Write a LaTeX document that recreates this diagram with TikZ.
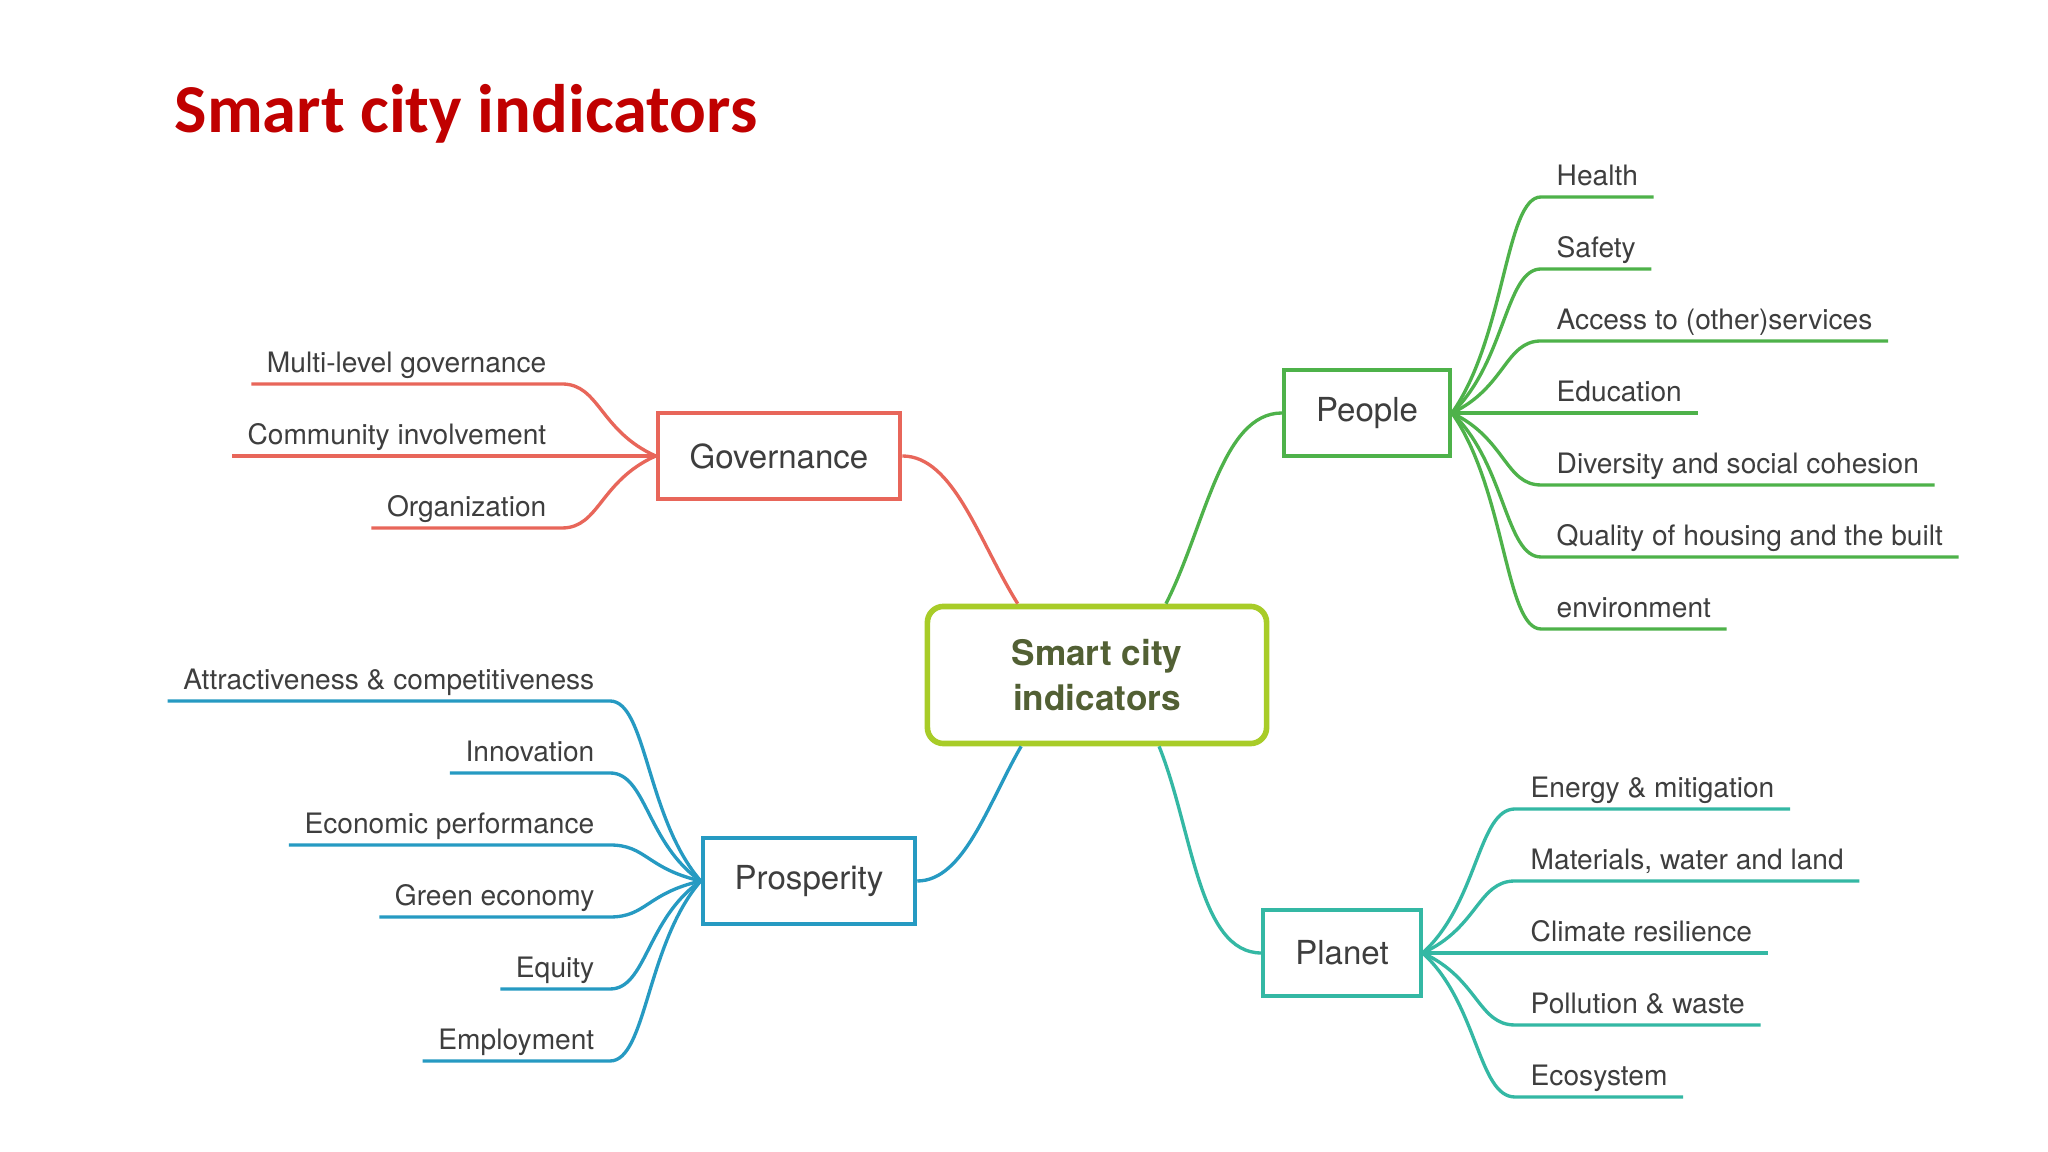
\documentclass[tikz,border=0pt]{standalone}
\usepackage{fontspec}
\setmainfont{TeX Gyre Heros}
\newfontfamily\titlefont{Carlito}
\usetikzlibrary{calc}
\definecolor{titlered}{RGB}{192,0,0}
\definecolor{textgrey}{RGB}{62,62,62}
\definecolor{hublime}{RGB}{168,204,40}
\definecolor{hubtext}{RGB}{82,96,52}
\definecolor{govred}{RGB}{232,102,90}
\definecolor{peoplegreen}{RGB}{78,178,74}
\definecolor{prosblue}{RGB}{38,154,194}
\definecolor{planetteal}{RGB}{52,184,164}

\begin{document}
\begin{tikzpicture}[x=0.01cm,y=0.01cm,
	topic/.style={draw,line width=1.1pt,fill=white,inner xsep=0.32cm,minimum height=0.86cm,font=\fontsize{9.4}{11}\selectfont,text=textgrey},
	leaf/.style={inner xsep=0.15cm,inner ysep=0pt,font=\fontsize{8}{10}\selectfont,text=textgrey},
	branch/.style={line width=0.95pt},
	twig/.style={line width=0.95pt,to path={let \p1=(\tikztostart),\p2=(\tikztotarget) in
		.. controls ({\x1+0.6*(\x2-\x1)},{\y1+0.35*(\y2-\y1)}) and ({\x1+0.6*(\x2-\x1)},\y2) .. (\tikztotarget)}}
]
	\path[fill=white,use as bounding box] (0,0) rectangle (2048,1152);

	\node[anchor=base west,inner sep=0,font=\titlefont\bfseries\fontsize{19.5}{23}\selectfont,text=titlered] (title) at (174,1019) {Smart city indicators};

	% centre and main topics
	\node[draw=hublime,line width=1.6pt,rounded corners=0.16cm,minimum width=3.39cm,minimum height=1.37cm,align=center,
		font=\bfseries\fontsize{10}{13}\selectfont,text=hubtext] (hub) at (1097,477) {Smart city\\indicators};
	\node[topic,draw=govred] (gov) at (779,696) {Governance};
	\node[topic,draw=peoplegreen] (peo) at (1367,739) {People};
	\node[topic,draw=prosblue] (pros) at (809,271) {Prosperity};
	\node[topic,draw=planetteal] (pla) at (1342,199) {Planet};

	\coordinate (hubgov) at ($(hub.north west)!0.27!(hub.north east)$);
	\coordinate (hubpeo) at ($(hub.north west)!0.70!(hub.north east)$);
	\coordinate (hubpros) at ($(hub.south west)!0.28!(hub.south east)$);
	\coordinate (hubpla) at ($(hub.south west)!0.68!(hub.south east)$);

	\draw[branch,govred] (gov.east) to[out=0,in=122,out looseness=0.7] (hubgov);
	\draw[branch,peoplegreen] (hubpeo) to[out=63,in=180,in looseness=0.7] (peo.west);
	\draw[branch,prosblue] (pros.east) to[out=0,in=-120,out looseness=0.7] (hubpros);
	\draw[branch,planetteal] (hubpla) to[out=-68,in=180,in looseness=0.7] (pla.west);

	% leaves
	\foreach \txt [count=\i] in {Multi-level governance,Community involvement,Organization} {
		\coordinate (gc\i) at (562,{696-(\i-2)*72});
		\node[leaf,anchor=base east] (g\i) at ($(gc\i)+(0,11)$) {\txt};
		\draw[twig,govred] (gov.west) to (gc\i) -- (gc\i -| g\i.west);
	}
	\foreach \txt [count=\i] in {Health,Safety,{Access to (other)services},Education,Diversity and social cohesion,Quality of housing and the built,environment} {
		\coordinate (pc\i) at (1541,{739-(\i-4)*72});
		\node[leaf,anchor=base west] (p\i) at ($(pc\i)+(0,11)$) {\txt};
		\draw[twig,peoplegreen] (peo.east) to (pc\i) -- (pc\i -| p\i.east);
	}
	\foreach \txt [count=\i] in {Attractiveness \& competitiveness,Innovation,Economic performance,Green economy,Equity,Employment} {
		\coordinate (rc\i) at (610,{271-(\i-3.5)*72});
		\node[leaf,anchor=base east] (r\i) at ($(rc\i)+(0,11)$) {\txt};
		\draw[twig,prosblue] (pros.west) to (rc\i) -- (rc\i -| r\i.west);
	}
	\foreach \txt [count=\i] in {Energy \& mitigation,{Materials, water and land},Climate resilience,Pollution \& waste,Ecosystem} {
		\coordinate (lc\i) at (1515,{199-(\i-3)*72});
		\node[leaf,anchor=base west] (l\i) at ($(lc\i)+(0,11)$) {\txt};
		\draw[twig,planetteal] (pla.east) to (lc\i) -- (lc\i -| l\i.east);
	}
\end{tikzpicture}
\end{document}
